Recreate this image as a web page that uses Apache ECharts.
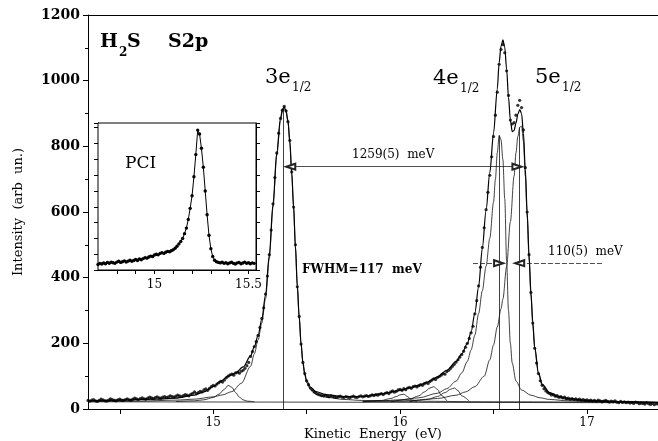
<!DOCTYPE html>
<html><head><meta charset="utf-8">
<script src="https://cdn.jsdelivr.net/npm/echarts@6/dist/echarts.min.js"></script>
<style>html,body{margin:0;padding:0;background:#fff}#c{width:658px;height:441px}</style>
</head><body><div id="c"></div>
<script>
// ---- measured spectrum (main), sampled every 0.01 eV from 14.33 eV ----
const dataStart = 14.33, dataStep = 0.01;
const dataI = [
26,24,27,29,25,23,26,30,28,25,
24,27,31,29,26,25,28,30,27,26,
29,31,28,27,30,33,31,29,32,34,
31,30,33,36,34,32,35,37,34,33,
36,38,35,37,40,38,36,39,42,40,
38,41,44,42,40,45,48,52,47,50,
54,52,58,61,57,63,68,
72,70,76,80,84,82,88,95,100,104,
106,103,110,112,109,115,118,124,132,142,
160,175,190,205,224,248,276,308,350,405,
470,545,625,705,780,840,885,910,922,908,
875,818,722,615,500,372,282,198,142,108,
86,74,64,58,52,49,45,43,41,40,
42,39,37,40,38,36,35,37,39,36,
35,38,36,34,37,39,36,35,38,40,
37,39,41,38,40,43,41,44,42,45,
47,44,48,50,47,52,55,51,54,58,
60,57,62,59,64,66,63,68,70,67,
71,74,72,77,80,78,84,88,92,90,
96,99,103,108,106,114,118,124,130,136,
143,150,158,166,176,188,200,215,232,252,
290,330,375,432,492,552,607,660,712,768,
830,895,965,1050,1095,1110,1085,1030,955,880,
868,872,895,925,940,918,850,735,600,470,
355,262,185,140,108,86,72,62,55,50,
47,43,44,39,41,36,38,34,36,32,
33,30,32,29,31,28,30,27,29,26,
28,25,27,24,26,23,27,25,22,24,
26,23,21,24,22,25,21,19,23,20,
22,19,21,18,20,17,21,19,16,18,
17,15,19,16,14,17,13,16,15
];
// ---- total fit ----
const fitE = [14.33,14.50,14.70,14.80,14.90,14.95,15.00,15.04,15.08,15.12,15.16,15.20,15.22,15.24,15.26,15.28,15.30,15.32,15.34,15.36,15.37,15.38,15.39,15.40,15.41,15.42,15.43,15.44,15.45,15.46,15.47,15.48,15.49,15.50,15.52,15.55,15.60,15.70,15.80,15.90,16.00,16.05,16.10,16.15,16.20,16.25,16.30,16.33,16.36,16.38,16.40,16.42,16.44,16.46,16.48,16.50,16.52,16.53,16.54,16.55,16.56,16.57,16.58,16.59,16.60,16.61,16.62,16.63,16.64,16.65,16.66,16.67,16.68,16.69,16.70,16.71,16.72,16.74,16.76,16.80,16.85,16.90,17.00,17.20,17.38];
const fitI = [25,27,30,33,42,52,68,85,100,110,128,162,190,224,274,348,468,624,780,885,912,920,908,878,815,720,618,495,376,282,200,142,107,86,67,53,44,38,38,46,57,64,72,83,98,118,145,168,200,235,292,372,490,605,720,840,975,1055,1105,1124,1102,1035,950,880,845,848,870,898,912,900,840,730,600,470,356,265,190,112,76,50,38,32,26,22,20];
// ---- fit components ----
const bgE = [14.33, 17.38];
const bgI = [22, 19];
const c3E = [14.33,14.60,14.80,14.90,15.00,15.05,15.10,15.15,15.20,15.22,15.24,15.26,15.28,15.30,15.32,15.34,15.36,15.37,15.38,15.39,15.40,15.41,15.42,15.43,15.44,15.45,15.46,15.47,15.48,15.49,15.50,15.52,15.55,15.60,15.70,15.80,16.00,16.50,17.38];
const c3I = [22,24,27,30,37,43,53,78,130,168,210,262,336,458,615,772,878,906,915,903,873,810,716,614,491,372,278,196,138,103,80,60,45,36,29,26,24,22,20];
const c4E = [15.80,15.90,16.00,16.10,16.20,16.25,16.30,16.33,16.36,16.38,16.40,16.42,16.44,16.46,16.48,16.50,16.51,16.52,16.53,16.54,16.55,16.56,16.57,16.58,16.59,16.60,16.62,16.65,16.70,16.75,16.80,16.90,17.00,17.38];
const c4I = [23,25,28,34,48,62,85,110,145,180,225,290,360,435,520,630,700,780,833,820,760,640,450,300,200,140,85,58,42,34,29,25,23,20];
const c5E = [15.80,16.00,16.10,16.20,16.30,16.35,16.40,16.45,16.48,16.50,16.52,16.54,16.55,16.57,16.59,16.61,16.62,16.63,16.64,16.65,16.66,16.67,16.68,16.69,16.70,16.71,16.72,16.74,16.76,16.80,16.85,16.90,17.00,17.20,17.38];
const c5I = [22,24,27,32,42,52,68,100,150,195,250,305,335,434,570,710,780,830,858,862,815,710,585,455,345,255,185,108,72,46,34,28,24,22,20];
const s1E = [14.80,14.90,14.95,15.00,15.03,15.06,15.08,15.10,15.12,15.14,15.16,15.18,15.22];
const s1I = [23,25,28,35,45,60,72,66,50,36,28,24,22];
const s2E = [15.80,15.90,15.95,15.98,16.00,16.02,16.04,16.06,16.09];
const s2I = [22,26,32,38,43,45,38,28,23];
const s3E = [15.95,16.05,16.10,16.13,16.16,16.18,16.20,16.22,16.25];
const s3I = [22,30,40,52,64,68,60,42,25];
const s4E = [16.05,16.15,16.20,16.24,16.27,16.29,16.31,16.33,16.37];
const s4I = [22,30,38,50,60,64,56,40,24];
// ---- peak markers and annotation levels ----
const peakE = [15.375, 16.53, 16.636];
const peakTop = [915, 833, 858];
const splitArrowE = [15.415, 16.625];
const splitArrowI = 738;
const fwhmLeftE = [16.39, 16.527];
const fwhmRightE = [17.08, 16.64];
const fwhmI = 444;
// ---- PCI inset spectrum, every 0.01 eV from 14.70 eV ----
const insetStart = 14.70, insetStep = 0.01;
const insetI = [
0.35,0.42,0.38,0.45,0.40,0.48,0.43,0.50,0.46,0.42,
0.50,0.55,0.48,0.52,0.58,0.50,0.56,0.62,0.55,0.60,
0.66,0.60,0.70,0.65,0.72,0.78,0.75,0.82,0.88,0.85,
0.95,1.00,0.96,1.05,1.10,1.05,1.12,1.18,1.15,1.22,
1.28,1.38,1.50,1.65,1.80,2.00,2.30,2.65,3.20,3.90,
4.70,5.90,7.30,8.85,8.60,7.70,6.50,5.00,3.50,2.20,
1.35,0.85,0.62,0.52,0.48,0.45,0.50,0.42,0.46,0.40,
0.45,0.50,0.42,0.38,0.45,0.48,0.40,0.44,0.50,0.42,
0.46,0.40,0.45,0.42
];
// ---- ticks ----
const mainXTicks = [14.5, 15, 15.5, 16, 16.5, 17];
const mainXLabels = [15, 16, 17];
const insetXTicks = [14.8, 14.9, 15.0, 15.1, 15.2, 15.3, 15.4, 15.5];
const insetXLabels = [15, 15.5];

const zip = (xs, ys) => xs.map((x, i) => [x, ys[i]]);
const grid = (start, step, ys) => ys.map((y, i) => [+(start + i * step).toFixed(3), y]);

const SERIF = '"DejaVu Serif", serif';
const chart = echarts.init(document.getElementById('c'), null, {renderer: 'canvas'});

const thin = {color: '#111', width: 0.8};
function comp(name, xs, ys) {
  return {name, type: 'line', xAxisIndex: 0, yAxisIndex: 0, data: zip(xs, ys),
    symbol: 'none', smooth: 0.3, smoothMonotone: 'x', lineStyle: thin, silent: true, z: 2};
}
function txt(text, x, y, font) {
  return {type: 'text', x, y, silent: true, z: 100,
    style: {text, font, fill: '#000', textAlign: 'left', textVerticalAlign: 'middle'}};
}

const option = {
  animation: false,
  backgroundColor: '#fff',
  grid: [
    {left: 88, right: 0, top: 15, bottom: 32, outerBoundsMode: 'none', show: false},
    {left: 98, top: 123, width: 158, height: 147, outerBoundsMode: 'none', show: true,
     backgroundColor: '#fff', borderColor: '#000', borderWidth: 1, z: 5}
  ],
  xAxis: [
    {gridIndex: 0, type: 'value', min: 14.33, max: 17.38, position: 'bottom',
     axisLine: {show: true, onZero: false, lineStyle: {color: '#000', width: 1}},
     axisTick: {show: true, inside: false, length: 5, customValues: mainXTicks, lineStyle: {color: '#000'}},
     axisLabel: {show: true, customValues: mainXLabels, color: '#000', fontFamily: SERIF, fontSize: 12, margin: 8,
                 formatter: v => String(v)},
     splitLine: {show: false},
     name: 'Kinetic  Energy  (eV)', nameLocation: 'middle', nameGap: 19, nameMoveOverlap: false,
     nameTextStyle: {color: '#000', fontFamily: SERIF, fontSize: 13}},
    {gridIndex: 0, type: 'value', min: 14.33, max: 17.38, position: 'top',
     axisLine: {show: true, onZero: false, lineStyle: {color: '#000', width: 1}},
     axisTick: {show: false}, axisLabel: {show: false}, splitLine: {show: false}},
    {gridIndex: 1, type: 'value', min: 14.7, max: 15.54, position: 'bottom',
     axisLine: {show: true, onZero: false, lineStyle: {color: '#000', width: 1}},
     axisTick: {show: true, inside: false, length: 4, customValues: insetXTicks, lineStyle: {color: '#000'}},
     axisLabel: {show: true, customValues: insetXLabels, color: '#000', fontFamily: SERIF, fontSize: 12, margin: 9,
                 formatter: v => String(v)},
     splitLine: {show: false}}
  ],
  yAxis: [
    {gridIndex: 0, type: 'value', min: 0, max: 1200, interval: 200,
     axisLine: {show: true, onZero: false, lineStyle: {color: '#000', width: 1}},
     axisTick: {show: true, inside: false, length: 5, lineStyle: {color: '#000'}},
     minorTick: {show: true, splitNumber: 2, length: 3, lineStyle: {color: '#000'}},
     axisLabel: {color: '#000', fontFamily: SERIF, fontSize: 14, fontWeight: 'bold', margin: 8,
                 formatter: v => String(v)},
     splitLine: {show: false},
     name: 'Intensity  (arb  un.)', nameLocation: 'middle', nameGap: 63, nameMoveOverlap: false,
     nameTextStyle: {color: '#000', fontFamily: SERIF, fontSize: 13}},
    {gridIndex: 1, type: 'value', min: 0, max: 9.3, interval: 1, position: 'left',
     axisLine: {show: true, onZero: false, lineStyle: {color: '#000'}},
     axisTick: {show: true, inside: false, length: 4, lineStyle: {color: '#000'}},
     axisLabel: {show: false}, splitLine: {show: false}},
    {gridIndex: 1, type: 'value', min: 0, max: 9.3, interval: 1, position: 'right',
     axisLine: {show: true, onZero: false, lineStyle: {color: '#000'}},
     axisTick: {show: true, inside: false, length: 4, lineStyle: {color: '#000'}},
     axisLabel: {show: false}, splitLine: {show: false}}
  ],
  series: [
    {name: 'background', type: 'line', xAxisIndex: 0, yAxisIndex: 0, data: zip(bgE, bgI),
     symbol: 'none', lineStyle: thin, silent: true, z: 2,
     markLine: {silent: true, symbol: ['none', 'none'], label: {show: false},
       lineStyle: {color: '#111', width: 0.8, type: 'solid'},
       data: peakE.map((e, i) => [{coord: [e, 0]}, {coord: [e, peakTop[i]]}])}},
    comp('sat1', s1E, s1I),
    comp('sat2', s2E, s2I),
    comp('sat3', s3E, s3I),
    comp('sat4', s4E, s4I),
    comp('3e1/2', c3E, c3I),
    comp('4e1/2', c4E, c4I),
    comp('5e1/2', c5E, c5I),
    {name: 'fit', type: 'line', xAxisIndex: 0, yAxisIndex: 0, data: zip(fitE, fitI),
     symbol: 'none', smooth: 0.3, smoothMonotone: 'x', lineStyle: {color: '#000', width: 1.2}, silent: true, z: 3,
     markLine: {silent: true, label: {show: false},
       lineStyle: {color: '#222', width: 0.8, type: 'solid'},
       data: [
         [{coord: [splitArrowE[0], splitArrowI], symbol: 'emptyTriangle', symbolSize: [6, 9]},
          {coord: [splitArrowE[1], splitArrowI], symbol: 'emptyTriangle', symbolSize: [6, 9]}],
         [{coord: [fwhmLeftE[0], fwhmI], symbol: 'none', lineStyle: {type: [5, 2]}},
          {coord: [fwhmLeftE[1], fwhmI], symbol: 'emptyTriangle', symbolSize: [6, 9]}],
         [{coord: [fwhmRightE[0], fwhmI], symbol: 'none', lineStyle: {type: [5, 2]}},
          {coord: [fwhmRightE[1], fwhmI], symbol: 'emptyTriangle', symbolSize: [6, 9]}]
       ]}},
    {name: 'data', type: 'scatter', xAxisIndex: 0, yAxisIndex: 0,
     data: grid(dataStart, dataStep, dataI), symbol: 'circle', symbolSize: 3.2,
     itemStyle: {color: '#000'}, silent: true, z: 4},
    {name: 'PCI', type: 'line', xAxisIndex: 2, yAxisIndex: 1,
     data: grid(insetStart, insetStep, insetI), symbol: 'circle', symbolSize: 3.4, showSymbol: true,
     itemStyle: {color: '#000'}, lineStyle: {color: '#000', width: 1}, silent: true, z: 6}
  ],
  graphic: [
    txt('H', 100, 42, 'bold 19px "DejaVu Serif", serif'),
    txt('2', 119, 53, 'bold 12px "DejaVu Serif", serif'),
    txt('S', 127, 42, 'bold 19px "DejaVu Serif", serif'),
    txt('S2p', 168, 42, 'bold 19px "DejaVu Serif", serif'),
    txt('3e', 265, 78, '21px ' + SERIF),
    txt('1/2', 292, 88, '12px ' + SERIF),
    txt('4e', 433, 79, '21px ' + SERIF),
    txt('1/2', 460, 89, '12px ' + SERIF),
    txt('5e', 535, 78, '21px ' + SERIF),
    txt('1/2', 562, 88, '12px ' + SERIF),
    txt('PCI', 125, 164, '17px ' + SERIF),
    txt('1259(5)  meV', 352, 155, '12px ' + SERIF),
    txt('FWHM=117  meV', 302, 270, 'bold 12px ' + SERIF),
    txt('110(5)  meV', 548, 252, '12px ' + SERIF)
  ]
};
chart.setOption(option);
</script>
</body></html>
